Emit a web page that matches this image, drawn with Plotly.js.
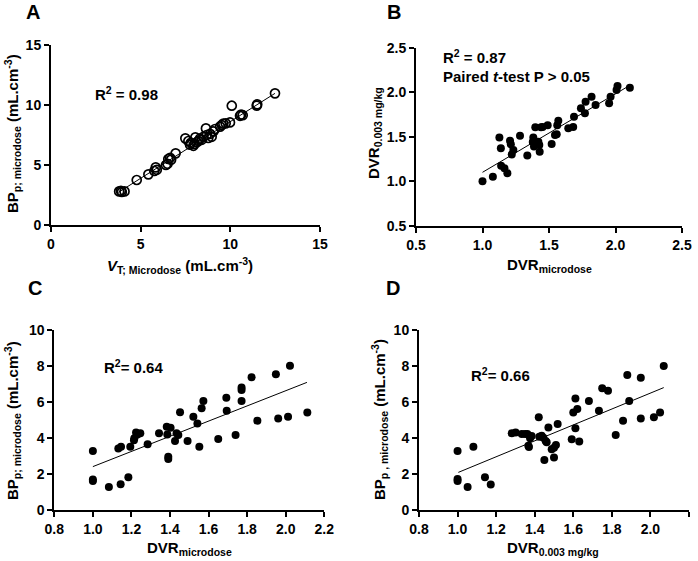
<!DOCTYPE html>
<html>
<head>
<meta charset="utf-8">
<script src="https://cdn.plot.ly/plotly-3.0.1.min.js"></script>
<style>
  html, body { margin: 0; padding: 0; background: #fff; }
  #chart { width: 698px; height: 561px; }
</style>
</head>
<body>
<div id="chart"></div>
<script>
// Panel A: V_T vs BP_p (microdose), open circles
const vtMicro = [3.8, 3.9, 3.95, 4.1, 4.78, 5.43, 5.76, 5.84, 5.9, 6.41, 6.5, 6.54, 6.64, 6.7, 6.95,
  7.49, 7.66, 7.75, 7.8, 7.94, 8.0, 8.05, 8.13, 8.22, 8.31, 8.4, 8.5, 8.64, 8.68, 8.77, 8.87, 8.96,
  9.05, 9.15, 9.43, 9.52, 9.61, 9.74, 9.98, 10.08, 10.54, 10.6, 10.69, 11.47, 11.5, 12.49];
const bpMicroA = [2.8, 2.85, 2.75, 2.8, 3.75, 4.22, 4.5, 4.8, 4.6, 5.0, 5.1, 5.5, 5.6, 5.45, 5.97,
  7.22, 7.0, 6.7, 6.85, 6.6, 6.75, 7.3, 6.9, 7.0, 7.2, 7.1, 7.35, 8.05, 7.5, 7.25, 7.6, 7.35,
  7.8, 8.0, 8.2, 8.33, 8.45, 8.47, 8.55, 9.94, 9.1, 9.2, 9.15, 9.95, 10.05, 10.97];
const fitA_x = [3.76, 12.49];
const fitA_y = [2.72, 10.97];

// Panel B: DVR microdose vs DVR 0.003 mg/kg
const dvrMicroB = [1.0, 1.078, 1.14, 1.165, 1.187, 1.127, 1.138, 1.207, 1.213, 1.22, 1.232, 1.282,
  1.337, 1.382, 1.378, 1.387, 1.397, 1.44, 1.452, 1.49, 1.42, 1.427, 1.43, 1.52, 1.545, 1.558,
  1.562, 1.57, 1.645, 1.682, 1.688, 1.74, 1.77, 1.775, 1.82, 1.85, 1.952, 1.963, 2.008, 2.015, 2.108];
const dvrDoseB = [1.0, 1.05, 1.174, 1.145, 1.089, 1.49, 1.37, 1.455, 1.415, 1.30, 1.35, 1.51,
  1.29, 1.49, 1.44, 1.39, 1.606, 1.606, 1.61, 1.63, 1.444, 1.407, 1.33, 1.418, 1.52, 1.527,
  1.63, 1.68, 1.594, 1.61, 1.725, 1.82, 1.763, 1.893, 1.95, 1.856, 1.875, 1.95, 2.025, 2.07, 2.05];
const fitB_x = [1.0, 2.1];
const fitB_y = [1.10, 2.07];

// Panel C: DVR microdose vs BP_p microdose
const dvrMicroC = [1.0, 1.0, 1.0, 1.083, 1.144, 1.184, 1.132, 1.146, 1.194, 1.213, 1.215, 1.224,
  1.231, 1.246, 1.284, 1.343, 1.383, 1.386, 1.403, 1.391, 1.391, 1.426, 1.434, 1.443, 1.452,
  1.491, 1.521, 1.542, 1.552, 1.564, 1.573, 1.65, 1.692, 1.694, 1.74, 1.771, 1.771, 1.771,
  1.823, 1.853, 1.949, 1.961, 2.012, 2.022, 2.112];
const bpMicroC = [3.28, 1.70, 1.61, 1.28, 1.43, 1.82, 3.41, 3.52, 3.52, 3.87, 3.98, 4.31,
  4.2, 4.26, 3.65, 4.26, 4.63, 4.2, 4.57, 2.96, 2.83, 3.83, 4.26, 4.17, 5.43,
  3.83, 5.18, 4.81, 3.52, 5.65, 6.06, 3.94, 6.24, 5.52, 4.17, 6.8, 6.67, 6.06,
  7.37, 4.96, 7.54, 5.09, 5.18, 8.02, 5.41];
const fitC_x = [1.0, 2.11];
const fitC_y = [2.41, 7.09];

// Panel D: DVR 0.003 mg/kg vs BP_p microdose
const dvrDoseD = [1.0, 1.0, 1.0, 1.052, 1.082, 1.142, 1.172, 1.281, 1.301, 1.333, 1.35, 1.362,
  1.384, 1.376, 1.367, 1.37, 1.424, 1.436, 1.445, 1.421, 1.457, 1.462, 1.45, 1.471, 1.488,
  1.5, 1.51, 1.5, 1.519, 1.592, 1.6, 1.611, 1.611, 1.621, 1.631, 1.681, 1.733, 1.75, 1.78,
  1.82, 1.858, 1.88, 1.89, 1.95, 1.95, 2.018, 2.05, 2.069];
const bpMicroD = [3.28, 1.72, 1.61, 1.28, 3.52, 1.82, 1.41, 4.26, 4.30, 4.22, 4.22, 4.22,
  4.11, 3.98, 3.57, 3.5, 4.07, 4.13, 4.02, 5.15, 3.83, 3.76, 2.78, 4.59, 3.37,
  3.46, 3.61, 2.91, 4.78, 3.93, 5.41, 6.20, 4.54, 5.61, 3.80, 6.06, 5.52, 6.76, 6.63,
  4.17, 4.96, 7.5, 6.06, 7.35, 5.09, 5.15, 5.41, 8.0];
const fitD_x = [1.004, 2.069];
const fitD_y = [2.09, 6.80];

const W = 698, H = 561;
const FONT = 'Arial, "Liberation Sans", sans-serif';
const fx = px => px / W;
const fy = py => 1 - py / H;

function axis(domain, range, dtick, fmt, anchor) {
  return {
    domain: domain, range: range, dtick: dtick, tick0: range[0], tickformat: fmt,
    anchor: anchor, showline: true, linewidth: 2, linecolor: 'black',
    ticks: 'outside', ticklen: 5, tickwidth: 2, tickcolor: 'black',
    showgrid: false, zeroline: false, fixedrange: true,
    tickfont: { family: FONT, size: 14, color: 'black', weight: 'bold' }
  };
}

const dots = (x, y, xa, ya) => ({ x: x, y: y, xaxis: xa, yaxis: ya, type: 'scatter', mode: 'markers',
  marker: { color: 'black', size: 8 }, hoverinfo: 'skip' });
const fit = (x, y, xa, ya) => ({ x: x, y: y, xaxis: xa, yaxis: ya, type: 'scatter', mode: 'lines',
  line: { color: 'black', width: 1 }, hoverinfo: 'skip' });

const traces = [
  fit(fitA_x, fitA_y, 'x', 'y'),
  { x: vtMicro, y: bpMicroA, xaxis: 'x', yaxis: 'y', type: 'scatter', mode: 'markers',
    marker: { symbol: 'circle-open', color: 'black', size: 9, line: { width: 1.7 } }, hoverinfo: 'skip' },
  fit(fitB_x, fitB_y, 'x2', 'y2'), dots(dvrMicroB, dvrDoseB, 'x2', 'y2'),
  fit(fitC_x, fitC_y, 'x3', 'y3'), dots(dvrMicroC, bpMicroC, 'x3', 'y3'),
  fit(fitD_x, fitD_y, 'x4', 'y4'), dots(dvrDoseD, bpMicroD, 'x4', 'y4')
];

// text placed by its centre (or left edge) in page pixels
function note(text, x, y, size, opts) {
  return Object.assign({ text: text, x: fx(x), y: fy(y), xref: 'paper', yref: 'paper',
    xanchor: 'center', yanchor: 'middle', showarrow: false,
    font: { family: FONT, size: size, color: 'black', weight: 'bold' } }, opts || {});
}

const annotations = [
  // panel letters
  note('A', 33, 12, 20), note('B', 394, 12, 20), note('C', 35, 288, 20), note('D', 393, 288, 20),
  // stats
  note('R<sup>2</sup> = 0.98', 93, 93, 15, { xanchor: 'left' }),
  note('R<sup>2</sup> = 0.87', 441, 56, 15, { xanchor: 'left' }),
  note('Paired <i>t</i>-test P > 0.05', 441, 76, 15, { xanchor: 'left' }),
  note('R<sup>2</sup>= 0.64', 102, 366, 15, { xanchor: 'left' }),
  note('R<sup>2</sup>= 0.66', 469, 374, 15, { xanchor: 'left' }),
  // x titles
  note('<i>V</i><sub>T; Microdose</sub> (mL.cm<sup>-3</sup>)', 180, 265, 15),
  note('DVR<sub>microdose</sub>', 549, 265, 15),
  note('DVR<sub>microdose</sub>', 189, 548, 15),
  note('DVR<sub>0.003 mg/kg</sub>', 553, 548, 15),
  // y titles
  note('BP<sub>p; microdose</sub> (mL.cm<sup>-3</sup>)', 12, 134, 15, { textangle: -90 }),
  note('DVR<sub>0.003 mg/kg</sub>', 374, 133, 15, { textangle: -90 }),
  note('BP<sub>p; microdose</sub> (mL.cm<sup>-3</sup>)', 12, 421, 15, { textangle: -90 }),
  note('BP<sub>p , microdose</sub> (mL.cm<sup>-3</sup>)', 379, 420, 15, { textangle: -90 })
];

const layout = {
  width: W, height: H,
  margin: { l: 0, r: 0, t: 0, b: 0 },
  paper_bgcolor: 'white', plot_bgcolor: 'white',
  showlegend: false,
  font: { family: FONT, color: 'black' },
  xaxis: axis([fx(51), fx(320)], [0, 15], 5, '', 'y'),
  yaxis: axis([fy(225), fy(45)], [0, 15], 5, '', 'x'),
  xaxis2: axis([fx(416), fx(682)], [0.5, 2.5], 0.5, '.1f', 'y2'),
  yaxis2: axis([fy(225.7), fy(47.7)], [0.5, 2.5], 0.5, '.1f', 'x2'),
  xaxis3: axis([fx(54.3), fx(324.3)], [0.8, 2.2], 0.2, '.1f', 'y3'),
  yaxis3: axis([fy(510), fy(330)], [0, 10], 2, '', 'x3'),
  xaxis4: axis([fx(419), fx(689)], [0.8, 2.2], 0.2, '.1f', 'y4'),
  yaxis4: axis([fy(510), fy(330)], [0, 10], 2, '', 'x4'),
  annotations: annotations
};

Plotly.newPlot('chart', traces, layout, { staticPlot: true });
</script>
</body>
</html>
